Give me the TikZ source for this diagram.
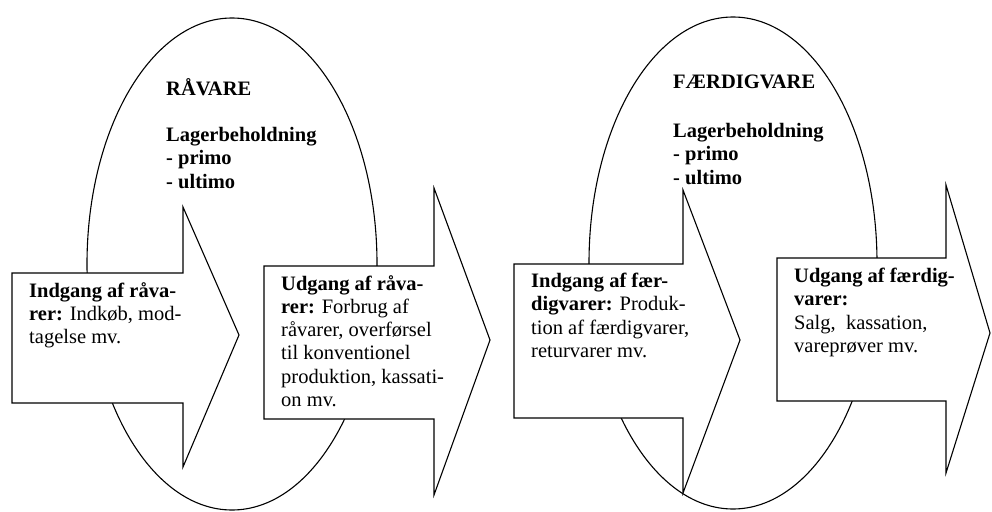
\documentclass[tikz,border=0pt]{standalone}
\usepackage{fontspec}
\setmainfont{Liberation Serif}
\usetikzlibrary{shapes.geometric}
\tikzset{
  outline/.style={draw=black, line width=1.1pt, line join=miter},
  stock/.style={ellipse, outline, fill=white, inner sep=0pt},
  flow/.style={outline, fill=white},
  txt/.style={anchor=north west, inner sep=0pt, align=left,
    font=\fontsize{20.5pt}{23.3pt}\selectfont},
}
\begin{document}
\begin{tikzpicture}[x=1pt, y=-1pt]
\useasboundingbox (0,0) rectangle (992,511);
\fill[white] (0,0) rectangle (992,511);
% stock ellipses
\node[stock, minimum width=290pt, minimum height=492pt] (e1) at (232,264) {};
\node[stock, minimum width=288pt, minimum height=492pt] (e2) at (733,263) {};
% flow arrows
\draw[flow] (12,273) -- (183,273) -- (183,207) -- (239,335) -- (183,467) -- (183,403) -- (12,403) -- cycle;
\draw[flow] (264,266) -- (434,266) -- (434,188) -- (490,340) -- (434,495) -- (434,419) -- (264,419) -- cycle;
\draw[flow] (514,264) -- (683,264) -- (683,190) -- (740,340) -- (683,493) -- (683,418) -- (514,418) -- cycle;
\draw[flow] (777,258) -- (946,258) -- (946,185) -- (990,333) -- (946,473) -- (946,401) -- (777,401) -- cycle;
% texts
\node[txt] (t1) at (166,78) {\textbf{RÅVARE}};
\node[txt] (l1) at (166,127) {\textbf{Lagerbeholdning}\\ \textbf{- primo}\\ \textbf{- ultimo}};
\node[txt] (t2) at (673,75) {\textbf{FÆRDIGVARE}};
\node[txt] (l2) at (673,123) {\textbf{Lagerbeholdning}\\ \textbf{- primo}\\ \textbf{- ultimo}};
\node[txt] (a1) at (29,282) {\textbf{Indgang af råva-}\\ \textbf{rer:} Indkøb, mod-\\ tagelse mv.};
\node[txt] (a2) at (281,275) {\textbf{Udgang af råva-}\\ \textbf{rer:} Forbrug af\\ råvarer, overførsel\\ til konventionel\\ produktion, kassati-\\ on mv.};
\node[txt] (a3) at (531,273) {\textbf{Indgang af fær-}\\ \textbf{digvarer:} Produk-\\ tion af færdigvarer,\\ returvarer mv.};
\node[txt] (a4) at (794,268) {\textbf{Udgang af færdig-}\\ \textbf{varer:}\\ Salg,\ \ kassation,\\ vareprøver mv.};
\end{tikzpicture}
\end{document}
